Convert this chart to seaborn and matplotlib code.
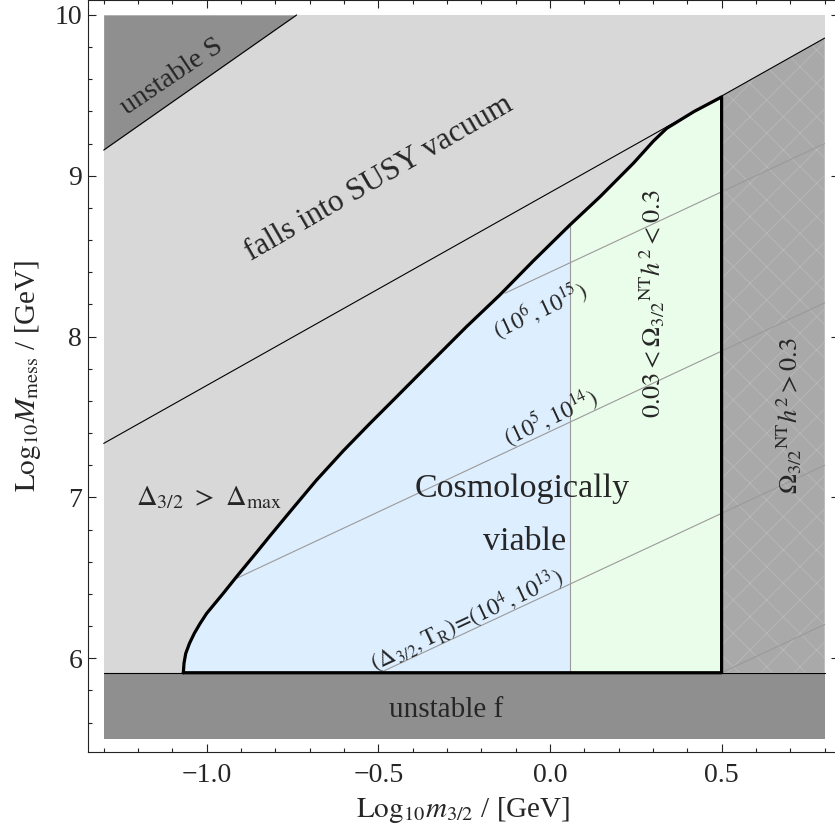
import numpy as np
import pandas as pd
import matplotlib
matplotlib.use("Agg")
import matplotlib.pyplot as plt
from matplotlib.ticker import MultipleLocator
import seaborn as sns

# ---------------- data ----------------
# plotted domain of the shaded regions
x_range = [-1.3, 0.8]
y_range = [5.5, 10.0]
floor_y = 5.91                      # unstable-f boundary
# boundary of "unstable S" region
s_line_x = [-1.3, -0.738]
s_line_y = [9.16, 10.0]
# "falls into SUSY vacuum" boundary
susy_x = [-1.3, 0.8]
susy_y = [7.336, 9.856]
# upper boundary of the cosmologically viable region
curve_x = [-1.068, -1.066, -1.061, -1.050, -1.036, -1.019, -1.000, -0.952,
           -0.913, -0.854, -0.816, -0.748, -0.680, -0.602, -0.524, -0.456,
           -0.340, -0.243, -0.146, -0.049, 0.058, 0.146, 0.243, 0.301,
           0.340, 0.420, 0.500]
curve_y = [5.91, 5.97, 6.03, 6.093, 6.155, 6.217, 6.279, 6.403,
           6.507, 6.660, 6.760, 6.935, 7.108, 7.290, 7.461, 7.606,
           7.855, 8.062, 8.259, 8.470, 8.694, 8.870, 9.078, 9.215,
           9.295, 9.40, 9.49]
omega_split_x = 0.058               # Omega h^2 = 0.03 contour
omega_max_x = 0.5                   # Omega h^2 = 0.3 contour
# (Delta, T_R) contours
tr_start_x = [-0.495, -0.913, -0.131, 0.50]
tr_start_y = [5.91, 6.497, 8.27, 5.91]
tr_end_x = [0.8, 0.8, 0.8, 0.8]
tr_end_y = [7.20, 8.21, 9.20, 6.21]

xtick_vals = [-1.0, -0.5, 0.0, 0.5]
xtick_labels = ["\u22121.0", "\u22120.5", "0.0", "0.5"]
ytick_vals = [6, 7, 8, 9, 10]
ytick_labels = ["6", "7", "8", "9", "10"]

# ---------------- style ----------------
sns.set_theme(style="ticks")
plt.rcParams["font.family"] = ["Liberation Serif", "DejaVu Serif"]
plt.rcParams["mathtext.fontset"] = "stix"
plt.rcParams["hatch.linewidth"] = 0.5
plt.rcParams["axes.unicode_minus"] = True

C_LIGHT = "#d8d8d8"
C_DARK = "#8f8f8f"
C_MID = "#a9a9a9"
C_BLUE = "#ddeeff"
C_GREEN = "#eafdea"
C_TR = "#9a9a9a"

fig = plt.figure(figsize=(8.35, 8.35), dpi=100)
ax = fig.add_axes([87.7 / 835, 83.3 / 835, 751.3 / 835, 751.2 / 835])
ax.set_xlim(-1.3466, 0.842)
ax.set_ylim(5.419, 10.09)

cx = np.array(curve_x)
cy = np.array(curve_y)
sx = np.array(susy_x)
sy = np.array(susy_y)

# background (light gray)
ax.fill_between(x_range, y_range[0], y_range[1], color=C_LIGHT, lw=0, zorder=1)
# unstable S
ax.fill_between(s_line_x, s_line_y, y_range[1], color=C_DARK, lw=0, zorder=2)
# unstable f
ax.fill_between(x_range, y_range[0], floor_y, color=C_DARK, lw=0, zorder=2)
# Omega h^2 > 0.3 region (right), bounded above by SUSY line
rx = np.array([omega_max_x, x_range[1]])
ax.fill_between(rx, floor_y, np.interp(rx, sx, sy), facecolor=C_MID,
                edgecolor="#bbbbbb", hatch="x", lw=0, zorder=2)
# viable regions
ax.fill_between(cx, floor_y, cy, where=cx <= omega_split_x, color=C_BLUE,
                lw=0, zorder=3)
ax.fill_between(cx, floor_y, cy, where=cx >= omega_split_x, color=C_GREEN,
                lw=0, zorder=3)

# T_R contour lines
tr_df = pd.DataFrame({
    "x": [v for pair in zip(tr_start_x, tr_end_x) for v in pair],
    "y": [v for pair in zip(tr_start_y, tr_end_y) for v in pair],
    "line": [i for i in range(len(tr_start_x)) for _ in range(2)],
})
sns.lineplot(data=tr_df, x="x", y="y", units="line", estimator=None,
             sort=False, color=C_TR, lw=0.8, ax=ax, zorder=4)
# Omega = 0.03 separator
split_top = float(np.interp(omega_split_x, cx, cy))
ax.plot([omega_split_x, omega_split_x], [floor_y, split_top], color=C_TR,
        lw=0.8, zorder=4)

# thin black boundaries
ax.plot(x_range, [floor_y, floor_y], color="black", lw=0.8, zorder=5)
ax.plot(s_line_x, s_line_y, color="black", lw=0.8, zorder=5)
ax.plot(susy_x, susy_y, color="black", lw=0.8, zorder=5)

# thick viable-region boundary
bdf = pd.DataFrame({
    "x": curve_x + [omega_max_x, curve_x[0]],
    "y": curve_y + [floor_y, floor_y],
})
sns.lineplot(data=bdf, x="x", y="y", sort=False, estimator=None,
             color="black", lw=2.3, ax=ax, zorder=6)
ax.lines[-1].set_solid_joinstyle("round")

# ---------------- labels ----------------
ax.text(-1.10, 9.614, "unstable S", rotation=34, ha="center", va="center",
        rotation_mode="anchor", fontsize=20.5, zorder=7)
ax.text(-0.498, 8.986, "falls into SUSY vacuum", rotation=30, ha="center",
        va="center", rotation_mode="anchor", fontsize=22.5, zorder=7)
ax.text(-0.992, 6.953, r"$\Delta_{3/2}\ >\ \Delta_{\mathrm{max}}$",
        ha="center", va="baseline", fontsize=20.5, zorder=7)
ax.text(-0.082, 7.00, "Cosmologically", ha="center", va="baseline",
        fontsize=24.5, zorder=7)
ax.text(-0.073, 6.673, "viable", ha="center", va="baseline", fontsize=24.5,
        zorder=7)
ax.text(-0.303, 5.636, "unstable f", ha="center", va="baseline",
        fontsize=21, zorder=7)
ax.text(-0.029, 8.165, r"$(10^6,10^{15})$", rotation=25, ha="center",
        va="center", rotation_mode="anchor", fontsize=17, zorder=7)
ax.text(0.003, 7.50, r"$(10^5,10^{14})$", rotation=25, ha="center",
        va="center", rotation_mode="anchor", fontsize=17, zorder=7)
ax.text(-0.242, 6.238,
        r"$(\Delta_{3/2},\mathrm{T_R})\!=\!(10^4,10^{13})$", rotation=25,
        ha="center", va="center", rotation_mode="anchor", fontsize=17,
        zorder=7)
ax.text(0.297, 8.203,
        r"$0.03<\Omega_{3/2}{}^{\mathrm{NT}}h^2<0.3$", rotation=90,
        ha="center", va="center", rotation_mode="anchor", fontsize=19,
        zorder=7)
ax.text(0.696, 7.506, r"$\Omega_{3/2}{}^{\mathrm{NT}}h^2>0.3$", rotation=90,
        ha="center", va="center", rotation_mode="anchor", fontsize=19,
        zorder=7)

# ---------------- axes ----------------
ax.set_xticks(xtick_vals)
ax.set_xticklabels(xtick_labels)
ax.set_yticks(ytick_vals)
ax.set_yticklabels(ytick_labels)
ax.xaxis.set_minor_locator(MultipleLocator(0.1))
ax.yaxis.set_minor_locator(MultipleLocator(0.2))
ax.tick_params(which="both", direction="in", top=True, right=True,
               color="#222222", width=0.8)
ax.tick_params(which="major", length=5.5, labelsize=20)
ax.tick_params(axis="x", which="major", pad=8)
ax.tick_params(axis="y", which="major", pad=4)
ax.tick_params(which="minor", length=3)
for sp in ax.spines.values():
    sp.set_color("#222222")
    sp.set_linewidth(0.8)
    sp.set_visible(True)
ax.set_xlabel(r"$\mathrm{Log}_{10}m_{3/2}$ / [GeV]", fontsize=21, labelpad=5)
ax.set_ylabel(r"$\mathrm{Log}_{10}M_{\mathrm{mess}}$ / [GeV]", fontsize=21,
              labelpad=8)

fig.savefig("out.png", dpi=100)
